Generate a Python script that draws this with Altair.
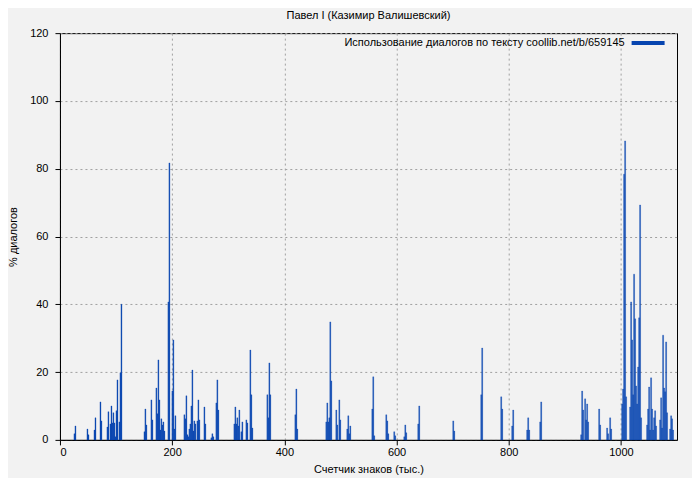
import altair as alt
import pandas as pd

TITLE = "Павел I (Казимир Валишевский)"
LEGEND = "Использование диалогов по тексту coollib.net/b/659145"
X_TITLE = "Счетчик знаков (тыс.)"
Y_TITLE = "% диалогов"

x_ticks = [0, 200, 400, 600, 800, 1000]
y_ticks = [0, 20, 40, 60, 80, 100, 120]

# bar start positions (thousand characters)
x_k = [
    24.9, 26.7, 48.1, 49.9, 60.6, 62.4, 71.3, 73.0,
    83.7, 85.5, 89.1, 90.9, 92.6, 94.4, 96.2, 98.0, 99.8, 101.6, 105.1, 106.9, 108.7,
    149.7, 151.4, 153.2, 162.1, 163.9,
    171.0, 172.8, 174.6, 176.4, 178.2, 179.9, 181.7, 183.5, 185.3,
    192.4, 194.2, 199.5, 201.3, 203.1, 204.9,
    220.9, 222.7, 224.5, 226.3, 228.0, 229.8, 231.6, 233.4, 235.2, 237.0, 238.7, 240.5,
    244.1, 245.9, 247.6, 256.6, 258.3, 269.0, 270.8, 272.6, 277.9, 279.7, 281.5,
    310.0, 311.8, 313.6, 315.3, 317.1, 318.9, 322.5, 324.3, 331.4, 333.2,
    338.5, 340.3, 342.1, 368.8, 370.6, 372.4, 374.1, 418.7, 420.5, 422.2,
    473.9, 475.7, 477.5, 479.3, 481.0, 482.8, 491.7, 493.5, 497.1, 498.8,
    511.3, 513.1, 514.9, 516.7, 555.9, 557.6, 559.4, 580.8, 582.6, 584.4,
    595.0, 596.8, 612.9, 614.7, 616.4, 637.8, 639.6, 700.2, 702.0,
    750.1, 751.8, 785.7, 787.5, 805.3, 807.1, 832.0, 833.8, 835.6, 855.2, 857.0,
    928.2, 930.0, 931.8, 935.3, 937.1, 938.9, 940.7, 960.3, 962.1,
    974.5, 976.3, 979.9, 981.7,
    1001.3, 1003.0, 1004.8, 1006.6, 1008.4,
    1015.5, 1017.3, 1019.1, 1020.9, 1022.6, 1024.4, 1026.2, 1028.0, 1029.8, 1031.6, 1033.3, 1035.1,
    1045.8, 1047.6, 1049.4, 1051.1, 1052.9, 1054.7, 1056.5, 1058.3, 1060.1, 1061.8,
    1069.0, 1070.8, 1072.5, 1074.3, 1076.1, 1077.9, 1079.7, 1081.4,
    1086.8, 1088.6, 1090.3, 1092.1,
]

# % dialogues
y_pct = [
    1.8, 4.1, 3.2, 1.5, 2.9, 6.5, 11.2, 5.6,
    3.8, 8.3, 4.7, 10.0, 5.0, 8.0, 5.0, 0.9, 8.6, 17.7, 5.3, 19.8, 40.0,
    2.4, 9.1, 4.4, 11.8, 5.9,
    15.3, 7.7, 23.6, 11.8, 2.9, 6.2, 4.4, 5.3, 2.6,
    40.7, 81.7, 14.4, 29.5, 3.2, 7.1,
    7.4, 6.2, 13.0, 1.5, 0.9, 3.2, 4.7, 10.0, 20.6, 2.6, 5.6, 4.7,
    5.6, 11.8, 5.9, 9.7, 4.7, 0.6, 1.8, 0.9, 10.9, 17.7, 8.8,
    4.7, 9.7, 4.7, 6.5, 4.1, 8.8, 2.4, 5.3, 5.9, 5.0,
    26.5, 13.3, 3.5, 13.3, 6.5, 22.7, 13.3, 7.4, 15.0, 3.2,
    5.3, 10.9, 5.3, 6.5, 34.8, 17.4, 8.8, 4.4, 11.8, 5.9,
    3.2, 7.1, 1.8, 4.1, 9.1, 18.6, 1.2, 7.4, 5.6, 1.8,
    2.4, 1.2, 0.9, 4.4, 2.1, 4.7, 10.0, 5.6, 2.6,
    13.3, 27.1, 12.7, 9.1, 4.1, 8.8, 2.9, 6.5, 2.9, 5.3, 11.2,
    1.5, 14.4, 8.8, 12.1, 5.9, 10.6, 5.3, 9.1, 4.4,
    3.5, 1.8, 6.5, 3.2,
    10.6, 15.0, 78.4, 88.2, 12.7,
    9.7, 40.7, 29.5, 13.3, 48.9, 35.7, 15.9, 10.6, 21.5, 36.0, 69.3, 6.5,
    4.4, 9.1, 15.6, 2.9, 18.3, 9.1, 2.9, 6.5, 8.6, 4.1,
    5.9, 12.4, 3.5, 30.9, 15.3, 14.2, 28.9, 8.0,
    3.2, 7.1, 6.2, 2.9,
]
assert len(x_k) == len(y_pct)

BIN = 1.7816  # width of one sample, thousand chars
FONT = "Liberation Sans"
BLUE = "#0745b0"
W = 1100 / BIN
H = 407

df = pd.DataFrame({"x": x_k, "y": y_pct})
df["x2"] = df["x"] + BIN
df["y0"] = 0.0

bars = alt.Chart(df).mark_bar(color=BLUE, stroke=BLUE, strokeWidth=0.3).encode(
    x=alt.X(
        "x:Q",
        scale=alt.Scale(domain=[0, 1100], nice=False, zero=False),
        axis=alt.Axis(values=x_ticks, title=X_TITLE, labelPadding=2, format="d",
                      titleX=W / 2, titleY=30, titleBaseline="middle"),
    ),
    x2="x2:Q",
    y=alt.Y(
        "y:Q",
        scale=alt.Scale(domain=[0, 120], nice=False),
        axis=alt.Axis(values=y_ticks, title=Y_TITLE, labelPadding=7, format="d",
                      titleX=-46, titleY=H / 2, titleAngle=270,
                      titleBaseline="middle", titleAlign="center"),
    ),
    y2="y0:Q",
)

one = pd.DataFrame({"legend": [LEGEND], "title": [TITLE]})

legend_text = alt.Chart(one).mark_text(
    align="right", baseline="middle", fontSize=11, font=FONT, color="black"
).encode(text="legend:N", x=alt.value(565), y=alt.value(10))

legend_swatch = alt.Chart(one).mark_rule(color=BLUE, strokeWidth=4).encode(
    x=alt.value(572), x2=alt.value(605), y=alt.value(10)
)

title_text = alt.Chart(one).mark_text(
    align="center", baseline="middle", fontSize=11, font=FONT, color="black"
).encode(text="title:N", x=alt.value(W / 2), y=alt.value(-17))

chart = (
    alt.layer(bars, legend_text, legend_swatch, title_text)
    .properties(
        width=W,
        height=H,
        autosize=alt.AutoSizeParams(type="none"),
        padding={"left": 52, "top": 25, "right": 15, "bottom": 38},
    )
    .configure(background="#f2f2f2", font=FONT)
    .configure_view(stroke="black", strokeWidth=1)
    .configure_axis(
        grid=True,
        gridColor="#a0a0a0",
        gridDash=[2, 3],
        gridWidth=1,
        domainColor="black",
        domainWidth=1,
        tickColor="black",
        tickSize=5,
        labelFont=FONT,
        labelFontSize=11,
        labelColor="black",
        titleFont=FONT,
        titleFontSize=11,
        titleFontWeight="normal",
        titleColor="black",
    )
)

chart.save("out.html", embed_options={"renderer": "svg", "actions": False})
